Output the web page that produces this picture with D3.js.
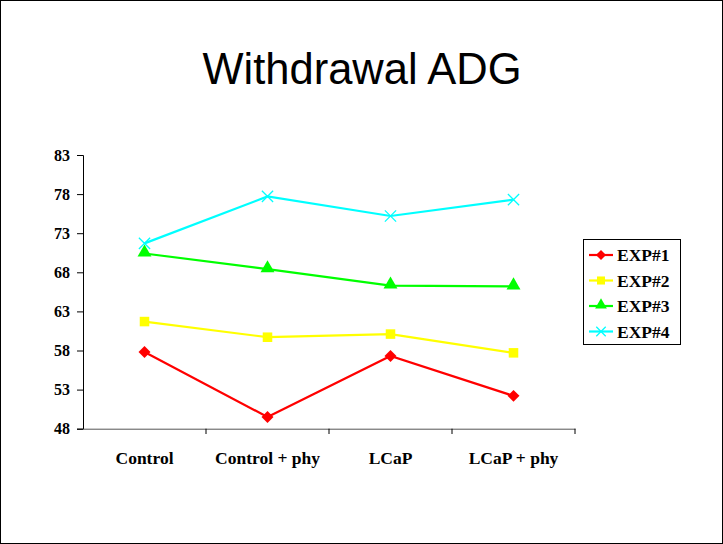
<!DOCTYPE html>
<html><head><meta charset="utf-8">
<script src="https://cdn.jsdelivr.net/npm/d3@7"></script>
<style>body{margin:0;background:#fff}svg{display:block}</style>
</head><body>
<script>
const categories = ["Control", "Control + phy", "LCaP", "LCaP + phy"];
const seriesNames = ["EXP#1", "EXP#2", "EXP#3", "EXP#4"];
const exp1 = [57.8, 49.5, 57.3, 52.2];
const exp2 = [61.7, 59.7, 60.1, 57.7];
const exp3 = [70.4, 68.4, 66.3, 66.2];
const exp4 = [71.7, 77.7, 75.2, 77.3];
const yTicks = [48, 53, 58, 63, 68, 73, 78, 83];
const colors = ["#ff0000", "#ffff00", "#00ff00", "#00ffff"];
const symbols = ["diamond", "square", "triangle", "cross"];

const W = 723, H = 544;
const svg = d3.select("body").append("svg").attr("width", W).attr("height", H);
svg.append("rect").attr("x", 0.5).attr("y", 0.5).attr("width", W - 1).attr("height", H - 1)
  .attr("fill", "#fff").attr("stroke", "#000");

svg.append("text").attr("x", 362).attr("y", 84).attr("text-anchor", "middle")
  .attr("font-family", "Liberation Sans, Arial, sans-serif").attr("font-size", 43.5).text("Withdrawal ADG");

const x = d3.scaleBand().domain(categories).range([83, 575]);
const y = d3.scaleLinear().domain([48, 83]).range([428.7, 155]);

const serif = "Liberation Serif, Times New Roman, serif";
const yAxis = svg.append("g").attr("transform", "translate(83,0)")
  .call(d3.axisLeft(y).tickValues(yTicks).tickSize(6).tickPadding(7));
yAxis.selectAll("text").attr("font-family", serif).attr("font-weight", "bold").attr("font-size", 16).attr("fill", "#000");
yAxis.select(".domain").attr("stroke", "#000");

const xAxis = svg.append("g").attr("transform", "translate(0,428.7)")
  .call(d3.axisBottom(x).tickSize(0).tickPadding(23));
xAxis.selectAll("text").attr("font-family", serif).attr("font-weight", "bold").attr("font-size", 17.5).attr("fill", "#000");
xAxis.select(".domain").attr("stroke", "#555");
const bounds = categories.map(c => x(c) + x.bandwidth());
svg.append("g").selectAll("line").data(bounds).join("line")
  .attr("x1", d => d).attr("x2", d => d).attr("y1", 428.7).attr("y2", 434).attr("stroke", "#000");

const data = [exp1, exp2, exp3, exp4];
const cx = c => x(c) + x.bandwidth() / 2;

function drawMarker(g, type, color, size) {
  if (type === "diamond") {
    g.append("path").attr("d", d3.symbol(d3.symbolDiamond2, size * 1.3)()).attr("fill", color);
  } else if (type === "square") {
    g.append("path").attr("d", d3.symbol(d3.symbolSquare, size * 1.3)()).attr("fill", color);
  } else if (type === "triangle") {
    g.append("path").attr("d", d3.symbol(d3.symbolTriangle, size * 1.2)()).attr("fill", color).attr("transform", "translate(0,-1)");
  } else {
    g.append("path").attr("d", d3.symbol(d3.symbolX, size * 1.2)()).attr("fill", "none").attr("stroke", color).attr("stroke-width", 1.3);
  }
}

const line = d3.line().x((d, i) => cx(categories[i])).y(d => y(d));
data.forEach((vals, si) => {
  svg.append("path").datum(vals).attr("d", line).attr("fill", "none")
    .attr("stroke", colors[si]).attr("stroke-width", 2.2);
  vals.forEach((v, i) => {
    const g = svg.append("g").attr("transform", `translate(${cx(categories[i])},${y(v)})`);
    drawMarker(g, symbols[si], colors[si], 70);
  });
});

// legend
const lg = svg.append("g");
lg.append("rect").attr("x", 583.5).attr("y", 239.5).attr("width", 97).attr("height", 105)
  .attr("fill", "#fff").attr("stroke", "#000");
seriesNames.forEach((n, i) => {
  const yy = 255 + i * 25.5;
  lg.append("line").attr("x1", 589).attr("x2", 613).attr("y1", yy).attr("y2", yy)
    .attr("stroke", colors[i]).attr("stroke-width", 2.2);
  const g = lg.append("g").attr("transform", `translate(601,${yy})`);
  drawMarker(g, symbols[i], colors[i], 50);
  lg.append("text").attr("x", 617).attr("y", yy + 6).attr("font-family", serif)
    .attr("font-weight", "bold").attr("font-size", 17.5).text(n);
});
</script>
</body></html>
